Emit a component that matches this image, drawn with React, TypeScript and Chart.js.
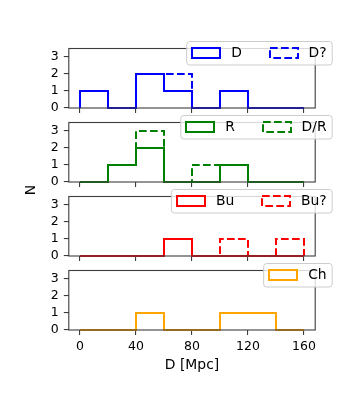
import React, { useEffect, useRef } from "react";
import { Chart, registerables } from "chart.js";

Chart.register(...registerables);

const BIN_EDGES = [0, 20, 40, 60, 80, 100, 120, 140, 160];
const X_TICKS = [0, 40, 80, 120, 160];
const Y_TICKS = [0, 1, 2, 3];

const D_COUNTS = [1, 0, 2, 1, 0, 1, 0, 0];
const D_Q_COUNTS = [1, 0, 2, 2, 0, 1, 0, 0];
const R_COUNTS = [0, 1, 2, 0, 0, 1, 0, 0];
const DR_COUNTS = [0, 1, 3, 0, 1, 1, 0, 0];
const BU_COUNTS = [0, 0, 0, 1, 0, 0, 0, 0];
const BU_Q_COUNTS = [0, 0, 0, 1, 0, 1, 0, 1];
const CH_COUNTS = [0, 0, 1, 0, 0, 1, 1, 0];

const X_LABEL = "D [Mpc]";
const Y_LABEL = "N";

type Series = { label: string; counts: number[]; color: string; dashed: boolean };
type Panel = { bottom: number; series: Series[] };

const PANELS: Panel[] = [
  {
    bottom: 108,
    series: [
      { label: "D", counts: D_COUNTS, color: "#0000ff", dashed: false },
      { label: "D?", counts: D_Q_COUNTS, color: "#0000ff", dashed: true },
    ],
  },
  {
    bottom: 182,
    series: [
      { label: "R", counts: R_COUNTS, color: "#008000", dashed: false },
      { label: "D/R", counts: DR_COUNTS, color: "#008000", dashed: true },
    ],
  },
  {
    bottom: 256,
    series: [
      { label: "Bu", counts: BU_COUNTS, color: "#ff0000", dashed: false },
      { label: "Bu?", counts: BU_Q_COUNTS, color: "#ff0000", dashed: true },
    ],
  },
  {
    bottom: 330,
    series: [{ label: "Ch", counts: CH_COUNTS, color: "#ffa500", dashed: false }],
  },
];

const W = 350;
const H = 400;
const PANEL_H = 59.5;
const AX_LEFT = 68.8;
const AX_RIGHT = 315.2;
const FONT = "'DejaVu Sans', sans-serif";
const SPINE = "#3c3c3c";
const DASH = [7.7, 3.3];

function stepPoints(counts: number[]) {
  const pts: { x: number; y: number }[] = [{ x: BIN_EDGES[0], y: 0 }];
  counts.forEach((c, i) => {
    pts.push({ x: BIN_EDGES[i], y: c });
    pts.push({ x: BIN_EDGES[i + 1], y: c });
  });
  pts.push({ x: BIN_EDGES[BIN_EDGES.length - 1], y: 0 });
  return pts;
}

const decoPlugin = {
  id: "deco",
  afterDatasetsDraw(chart: any) {
    const { ctx, chartArea: a } = chart;
    ctx.save();
    ctx.strokeStyle = SPINE;
    ctx.lineWidth = 1.1;
    ctx.setLineDash([]);
    ctx.strokeRect(a.left, a.top, a.right - a.left, a.bottom - a.top);
    ctx.restore();
  },
  afterDraw(chart: any, _args: any, opts: any) {
    const { ctx, chartArea: a } = chart;
    const series: Series[] = opts.series || [];
    const fs = 13.9;
    ctx.save();
    ctx.font = `${fs}px ${FONT}`;
    const pad = 0.4 * fs;
    const hl = 2 * fs;
    const htp = 0.8 * fs;
    const cs = 2 * fs;
    const widths = series.map((s) => ctx.measureText(s.label).width);
    let total = pad * 2;
    widths.forEach((w, i) => {
      total += hl + htp + w + (i > 0 ? cs : 0);
    });
    const right = a.right + 17;
    const left = right - total;
    const top = a.top - 7;
    const bh = 23.5;
    const r = 3;
    ctx.beginPath();
    ctx.moveTo(left + r, top);
    ctx.lineTo(right - r, top);
    ctx.arcTo(right, top, right, top + r, r);
    ctx.lineTo(right, top + bh - r);
    ctx.arcTo(right, top + bh, right - r, top + bh, r);
    ctx.lineTo(left + r, top + bh);
    ctx.arcTo(left, top + bh, left, top + bh - r, r);
    ctx.lineTo(left, top + r);
    ctx.arcTo(left, top, left + r, top, r);
    ctx.closePath();
    ctx.fillStyle = "rgba(255,255,255,0.8)";
    ctx.fill();
    ctx.strokeStyle = "#cccccc";
    ctx.lineWidth = 1;
    ctx.stroke();
    const cy = top + bh / 2;
    let x = left + pad;
    series.forEach((s, i) => {
      if (i > 0) x += cs;
      ctx.save();
      ctx.strokeStyle = s.color;
      ctx.lineWidth = 2;
      ctx.lineJoin = "miter";
      ctx.setLineDash(s.dashed ? DASH : []);
      ctx.strokeRect(Math.round(x), Math.round(cy - 5), Math.round(hl), 10);
      ctx.restore();
      x += hl + htp;
      ctx.fillStyle = "#000";
      ctx.textBaseline = "middle";
      ctx.textAlign = "left";
      ctx.fillText(s.label, x, cy);
      x += widths[i];
    });
    if (opts.drawN) {
      ctx.save();
      ctx.translate(31, 190);
      ctx.rotate(-Math.PI / 2);
      ctx.font = `13.9px ${FONT}`;
      ctx.fillStyle = "#000";
      ctx.textAlign = "center";
      ctx.textBaseline = "middle";
      ctx.fillText(Y_LABEL, 0, 0);
      ctx.restore();
    }
    ctx.restore();
  },
};

function PanelChart({ panel, index }: { panel: Panel; index: number }) {
  const ref = useRef<HTMLCanvasElement | null>(null);
  useEffect(() => {
    if (!ref.current) return;
    const isLast = index === PANELS.length - 1;
    const xAxisH = isLast ? 44 : 5;
    const top = panel.bottom - PANEL_H;
    const yAxisW = 20;
    const datasets = panel.series.map((s) => ({
      label: s.label,
      data: stepPoints(s.counts),
      borderColor: s.color,
      borderWidth: 2,
      borderDash: s.dashed ? DASH : [],
      borderJoinStyle: "miter",
      pointRadius: 0,
      fill: false,
      tension: 0,
      clip: false,
      order: s.dashed ? 1 : 0,
    }));
    const chart = new Chart(ref.current, {
      type: "line",
      data: { datasets },
      plugins: [decoPlugin],
      options: {
        animation: false,
        responsive: false,
        events: [],
        layout: {
          padding: {
            left: AX_LEFT - yAxisW,
            right: W - AX_RIGHT,
            top,
            bottom: H - panel.bottom - xAxisH,
          },
        },
        plugins: {
          legend: { display: false },
          tooltip: { enabled: false },
          deco: { series: panel.series, drawN: index === 0 },
        } as any,
        scales: {
          x: {
            type: "linear",
            min: -8,
            max: 168,
            afterBuildTicks: (s: any) => {
              s.ticks = X_TICKS.map((v) => ({ value: v }));
            },
            afterFit: (s: any) => {
              s.height = xAxisH;
            },
            grid: {
              drawOnChartArea: false,
              drawTicks: true,
              tickLength: 5,
              color: SPINE,
              lineWidth: 1.1,
            },
            border: { display: false },
            ticks: {
              display: isLast,
              font: { family: FONT, size: 12.5 },
              color: "#000",
              padding: 4,
              maxRotation: 0,
              autoSkip: false,
            },
            title: {
              display: isLast,
              text: X_LABEL,
              font: { family: FONT, size: 13.9 },
              color: "#000",
              padding: { top: 0, bottom: 0 },
            },
          },
          y: {
            type: "linear",
            min: 0,
            max: 3.5,
            afterBuildTicks: (s: any) => {
              s.ticks = Y_TICKS.map((v) => ({ value: v }));
            },
            afterFit: (s: any) => {
              s.width = yAxisW;
            },
            grid: {
              drawOnChartArea: false,
              drawTicks: true,
              tickLength: 5,
              color: SPINE,
              lineWidth: 1.1,
            },
            border: { display: false },
            ticks: {
              font: { family: FONT, size: 12.5 },
              color: "#000",
              padding: 5,
            },
          },
        },
      } as any,
    });
    return () => chart.destroy();
  }, [panel, index]);
  return (
    <canvas
      ref={ref}
      width={W}
      height={H}
      style={{ position: "absolute", left: 0, top: 0, width: W, height: H }}
    />
  );
}

export default function App() {
  return (
    <div
      style={{
        position: "fixed",
        left: 0,
        top: 0,
        width: W,
        height: H,
        background: "#fff",
      }}
    >
      {PANELS.map((p, i) => (
        <PanelChart key={i} panel={p} index={i} />
      ))}
    </div>
  );
}
